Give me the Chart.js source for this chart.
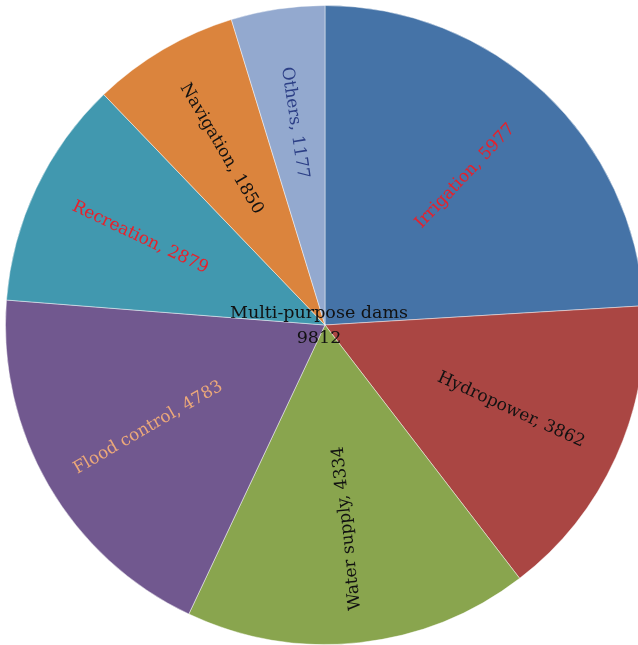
<!DOCTYPE html>
<html>
<head>
<meta charset="utf-8">
<title>Dams by purpose</title>
<script src="https://cdn.jsdelivr.net/npm/chart.js@4/dist/chart.umd.min.js"></script>
<style>
  html, body { margin: 0; padding: 0; overflow: hidden; background: #ffffff; }
  #wrap { position: absolute; left: 5px; top: 5px; width: 640px; height: 640px; }
</style>
</head>
<body>
<div id="wrap"><canvas id="pie"></canvas></div>
<script>
// Dams by main purpose (clockwise from 12 o'clock)
const categories = ['Irrigation', 'Hydropower', 'Water supply', 'Flood control', 'Recreation', 'Navigation', 'Others'];
const damCounts = [5977, 3862, 4334, 4783, 2879, 1850, 1177];
const centerTitle = 'Multi-purpose dams';
const centerCount = 9812;

// Styling
const sliceColors = ['#4573a7', '#aa4643', '#89a54e', '#71588f', '#4198af', '#db843d', '#93a9cf'];
const labelColors = ['#e8202a', '#111111', '#111111', '#eba87a', '#e8202a', '#111111', '#2c3f86'];
const FONT = '"DejaVu Serif", "Liberation Serif", serif';

// Radial labels "Name, value" drawn at the middle of each slice
const sliceLabels = {
  id: 'sliceLabels',
  afterDatasetsDraw(chart) {
    const ctx = chart.ctx;
    const meta = chart.getDatasetMeta(0);
    meta.data.forEach((arc, i) => {
      const p = arc.getProps(['x', 'y', 'startAngle', 'endAngle', 'outerRadius'], true);
      const mid = (p.startAngle + p.endAngle) / 2;
      const r = p.outerRadius * 0.64;
      const x = p.x + Math.cos(mid) * r;
      const y = p.y + Math.sin(mid) * r;
      // keep text readable; near-vertical labels in the lower half read upwards
      let rot = mid;
      const c = Math.cos(mid), s = Math.sin(mid);
      if (c < 0 || (s > 0 && c < 0.2)) rot += Math.PI;
      ctx.save();
      ctx.translate(x, y);
      ctx.rotate(rot);
      ctx.font = '17px ' + FONT;
      ctx.fillStyle = labelColors[i];
      ctx.textAlign = 'center';
      ctx.textBaseline = 'middle';
      ctx.fillText(categories[i] + ', ' + damCounts[i], 0, 0);
      ctx.restore();
    });
  }
};

// Two-line note at the pie centre
const centerNote = {
  id: 'centerNote',
  afterDraw(chart) {
    const ctx = chart.ctx;
    const arc = chart.getDatasetMeta(0).data[0];
    const c = arc.getProps(['x', 'y'], true);
    ctx.save();
    ctx.font = '17.5px ' + FONT;
    ctx.fillStyle = '#111111';
    ctx.textAlign = 'center';
    ctx.textBaseline = 'middle';
    ctx.fillText(centerTitle, c.x - 6, c.y - 12);
    ctx.fillText(String(centerCount), c.x - 6, c.y + 13);
    ctx.restore();
  }
};

new Chart(document.getElementById('pie'), {
  type: 'pie',
  data: {
    labels: categories,
    datasets: [{
      data: damCounts,
      backgroundColor: sliceColors,
      borderColor: 'rgba(255,255,255,0.45)',
      borderWidth: 1
    }]
  },
  options: {
    responsive: true,
    maintainAspectRatio: false,
    animation: false,
    layout: { padding: 0 },
    plugins: {
      legend: { display: false },
      tooltip: { enabled: false }
    }
  },
  plugins: [sliceLabels, centerNote]
});
</script>
</body>
</html>
